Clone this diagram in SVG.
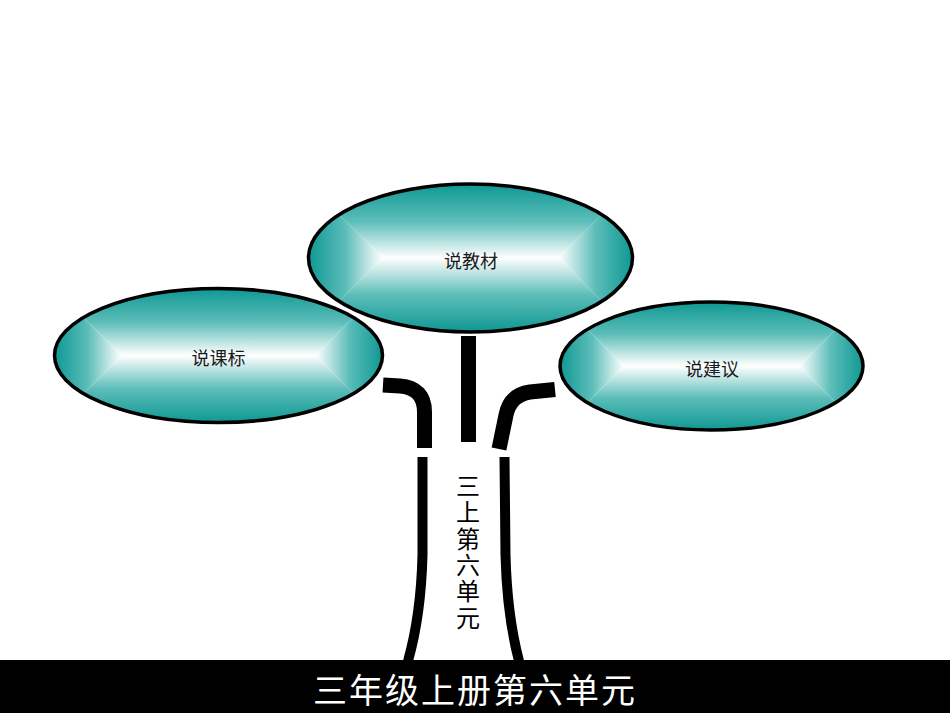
<svg xmlns="http://www.w3.org/2000/svg" width="950" height="713" viewBox="0 0 950 713">
<style>
.lbl{font-family:"Noto Sans CJK SC","Liberation Sans",sans-serif;font-size:18px;fill:#1a1a1a;text-anchor:middle;dominant-baseline:central}
.vt{font-family:"Noto Sans CJK SC","Liberation Sans",sans-serif;font-size:24px;fill:#000;writing-mode:vertical-rl;letter-spacing:2.3px}
.title{font-family:"Noto Sans CJK SC","Liberation Sans",sans-serif;font-size:34px;letter-spacing:2px;fill:#fff;text-anchor:middle;dominant-baseline:central}
.outline{fill:none;stroke:#000;stroke-width:3.5}
.branch{fill:none;stroke:#000;stroke-width:15}
.trunk{fill:none;stroke:#000;stroke-width:10}
</style>
<defs>
<linearGradient id="gT" x1="0" y1="0" x2="0" y2="1"><stop offset="0" stop-color="#0f9893"/><stop offset="0.5" stop-color="#5cbdb9"/><stop offset="1" stop-color="#ffffff"/></linearGradient>
<linearGradient id="gB" x1="0" y1="1" x2="0" y2="0"><stop offset="0" stop-color="#0f9893"/><stop offset="0.5" stop-color="#5cbdb9"/><stop offset="1" stop-color="#ffffff"/></linearGradient>
<linearGradient id="gL" x1="0" y1="0" x2="1" y2="0"><stop offset="0" stop-color="#0f9893"/><stop offset="0.5" stop-color="#5cbdb9"/><stop offset="1" stop-color="#ffffff"/></linearGradient>
<linearGradient id="gR" x1="1" y1="0" x2="0" y2="0"><stop offset="0" stop-color="#0f9893"/><stop offset="0.5" stop-color="#5cbdb9"/><stop offset="1" stop-color="#ffffff"/></linearGradient>
<clipPath id="cL"><ellipse cx="218.5" cy="355.5" rx="164" ry="67"/></clipPath>
<clipPath id="cR"><ellipse cx="711.5" cy="366" rx="151.5" ry="64"/></clipPath>
<clipPath id="cT"><ellipse cx="470.5" cy="258" rx="162" ry="74"/></clipPath>
</defs>
<rect width="950" height="713" fill="#fff"/>

<g id="connectors">
<rect x="461" y="336" width="15" height="106" fill="#000"/>
<path class="branch" d="M383,385 L400,386 Q424.5,388 424.5,412 L424.5,448"/>
<path class="branch" d="M555,389.5 L530,392 Q510,395 506,415 L499,449"/>
<path class="trunk" d="M422.5,457 L422.5,555 Q421,615 408,661"/>
<path class="trunk" d="M504.5,457 L505.5,555 Q507,615 519,661"/>
</g>

<g id="node-kebiao">
<g clip-path="url(#cL)">
<polygon points="54.5,288.5 382.5,288.5 315.5,355.5 121.5,355.5" fill="url(#gT)"/>
<polygon points="54.5,422.5 382.5,422.5 315.5,355.5 121.5,355.5" fill="url(#gB)"/>
<polygon points="54.5,288.5 121.5,355.5 54.5,422.5" fill="url(#gL)"/>
<polygon points="382.5,288.5 315.5,355.5 382.5,422.5" fill="url(#gR)"/>
</g>
<ellipse class="outline" cx="218.5" cy="355.5" rx="164" ry="67"/>
<text class="lbl" x="218.5" y="357">说课标</text>
</g>

<g id="node-jianyi">
<g clip-path="url(#cR)">
<polygon points="560,302 863,302 799,366 624,366" fill="url(#gT)"/>
<polygon points="560,430 863,430 799,366 624,366" fill="url(#gB)"/>
<polygon points="560,302 624,366 560,430" fill="url(#gL)"/>
<polygon points="863,302 799,366 863,430" fill="url(#gR)"/>
</g>
<ellipse class="outline" cx="711.5" cy="366" rx="151.5" ry="64"/>
<text class="lbl" x="712" y="368">说建议</text>
</g>

<g id="node-jiaocai">
<g clip-path="url(#cT)">
<polygon points="308.5,184 632.5,184 558.5,258 382.5,258" fill="url(#gT)"/>
<polygon points="308.5,332 632.5,332 558.5,258 382.5,258" fill="url(#gB)"/>
<polygon points="308.5,184 382.5,258 308.5,332" fill="url(#gL)"/>
<polygon points="632.5,184 558.5,258 632.5,332" fill="url(#gR)"/>
</g>
<ellipse class="outline" cx="470.5" cy="258" rx="162" ry="74"/>
<text class="lbl" x="471" y="260">说教材</text>
</g>

<g id="trunk-label">
<text class="vt" x="468" y="474">三上第六单元</text>
</g>

<g id="title-bar">
<rect x="0" y="660" width="950" height="53" fill="#000"/>
<text class="title" x="475" y="688">三年级上册第六单元</text>
</g>
</svg>
